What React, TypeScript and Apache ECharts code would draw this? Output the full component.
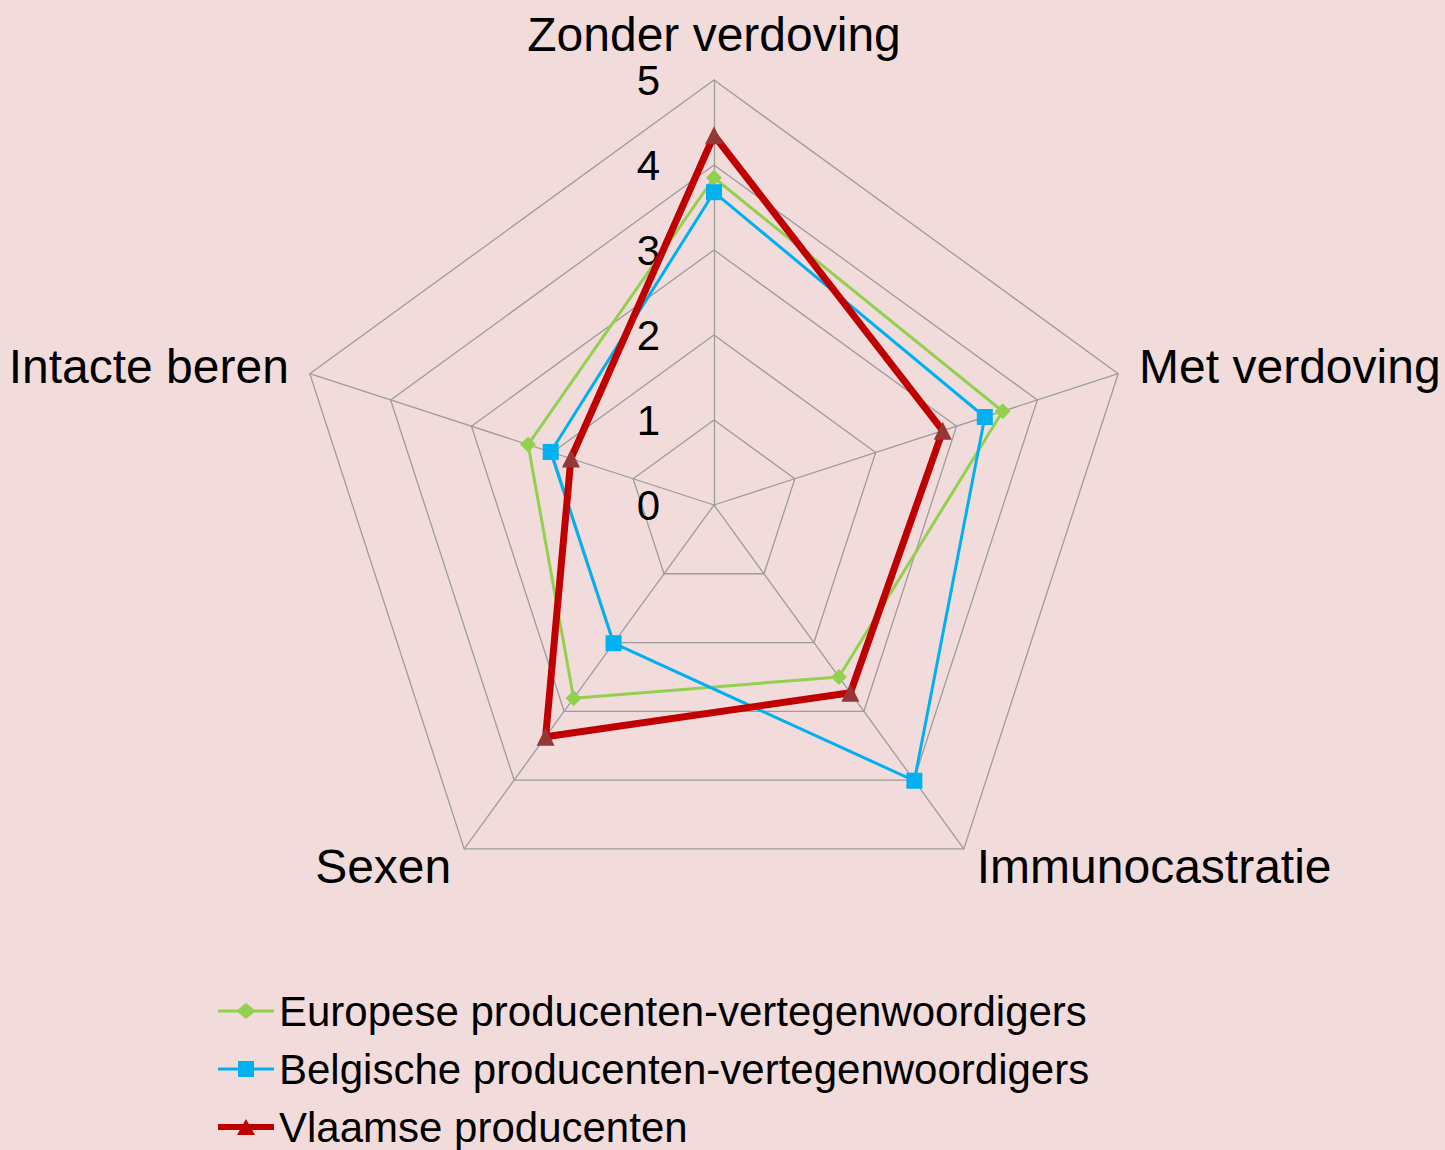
import React, { useEffect, useRef } from "react";
import * as echarts from "echarts";

const axes = ["Zonder verdoving", "Met verdoving", "Immunocastratie", "Sexen", "Intacte beren"];
const seriesNames = [
  "Europese producenten-vertegenwoordigers",
  "Belgische producenten-vertegenwoordigers",
  "Vlaamse producenten",
];
const europese = [3.85, 3.57, 2.5, 2.81, 2.3];
const belgische = [3.68, 3.35, 4.01, 2.01, 2.02];
const vlaamse = [4.35, 2.83, 2.73, 3.37, 1.77];
const axisMax = 5;

const FONT = "'Liberation Sans', Arial, sans-serif";

// ECharts places radar indicators counter-clockwise; the reference runs clockwise.
const order = [0, 4, 3, 2, 1];
const reorder = (arr: any[]) => order.map((i) => arr[i]);

const legendIcons = [
  "path://M0,6.5 L20,6.5 L28,0 L36,6.5 L56,6.5 L56,9.5 L36,9.5 L28,16 L20,9.5 L0,9.5 Z",
  "path://M0,6.5 L20,6.5 L20,0 L36,0 L36,6.5 L56,6.5 L56,9.5 L36,9.5 L36,16 L20,16 L20,9.5 L0,9.5 Z",
  "path://M0,5 L25.19,5 L28,0 L30.81,5 L56,5 L56,11 L34.19,11 L37,16 L19,16 L21.81,11 L0,11 Z",
];

export default function App() {
  const ref = useRef<HTMLDivElement>(null);
  useEffect(() => {
    document.body.style.margin = "0";
    const chart = echarts.init(ref.current!, undefined, { renderer: "svg" });
    const labelStyle = { color: "#000", fontSize: 42, fontFamily: FONT };
    chart.setOption({
      animation: false,
      backgroundColor: "#F2DCDB",
      legend: {
        orient: "vertical",
        left: 218,
        top: 990,
        height: 400,
        padding: 0,
        itemWidth: 56,
        itemHeight: 16,
        itemGap: 16,
        textStyle: { color: "#000", fontSize: 42, fontFamily: FONT, lineHeight: 40 },
        data: [
          { name: seriesNames[0], icon: legendIcons[0], itemStyle: { color: "#92D050" } },
          { name: seriesNames[1], icon: legendIcons[1], itemStyle: { color: "#00B0F0" } },
          { name: seriesNames[2], icon: legendIcons[2], itemStyle: { color: "#C00000" } },
        ],
      },
      radar: {
        center: [714, 505],
        radius: 425,
        startAngle: 90,
        shape: "polygon",
        splitNumber: 5,
        nameGap: 22,
        axisName: { color: "#000", fontSize: 48, fontFamily: FONT },
        indicator: reorder(axes).map((name: string, i: number) => ({
          name,
          min: 0,
          max: axisMax,
          axisLabel: i === 0 ? { show: true, ...labelStyle, margin: 54 } : { show: false },
        })),
        splitLine: { lineStyle: { color: "#9C9C9C", width: 1.3 } },
        splitArea: { show: false },
        axisLine: { lineStyle: { color: "#9C9C9C", width: 1.3 } },
        axisTick: { show: false },
        axisLabel: { show: false },
      },
      series: [
        {
          type: "radar",
          data: [
            {
              name: seriesNames[0],
              value: reorder(europese),
              symbol: "diamond",
              symbolSize: 16,
              lineStyle: { color: "#92D050", width: 3 },
              itemStyle: { color: "#92D050" },
            },
            {
              name: seriesNames[1],
              value: reorder(belgische),
              symbol: "rect",
              symbolSize: 16,
              lineStyle: { color: "#00B0F0", width: 3 },
              itemStyle: { color: "#00B0F0" },
            },
            {
              name: seriesNames[2],
              value: reorder(vlaamse),
              symbol: "triangle",
              symbolSize: 18,
              lineStyle: { color: "#C00000", width: 7 },
              itemStyle: { color: "#953735" },
            },
          ],
        },
      ],
    });
    return () => chart.dispose();
  }, []);
  return <div ref={ref} style={{ width: 1445, height: 1150 }} />;
}
